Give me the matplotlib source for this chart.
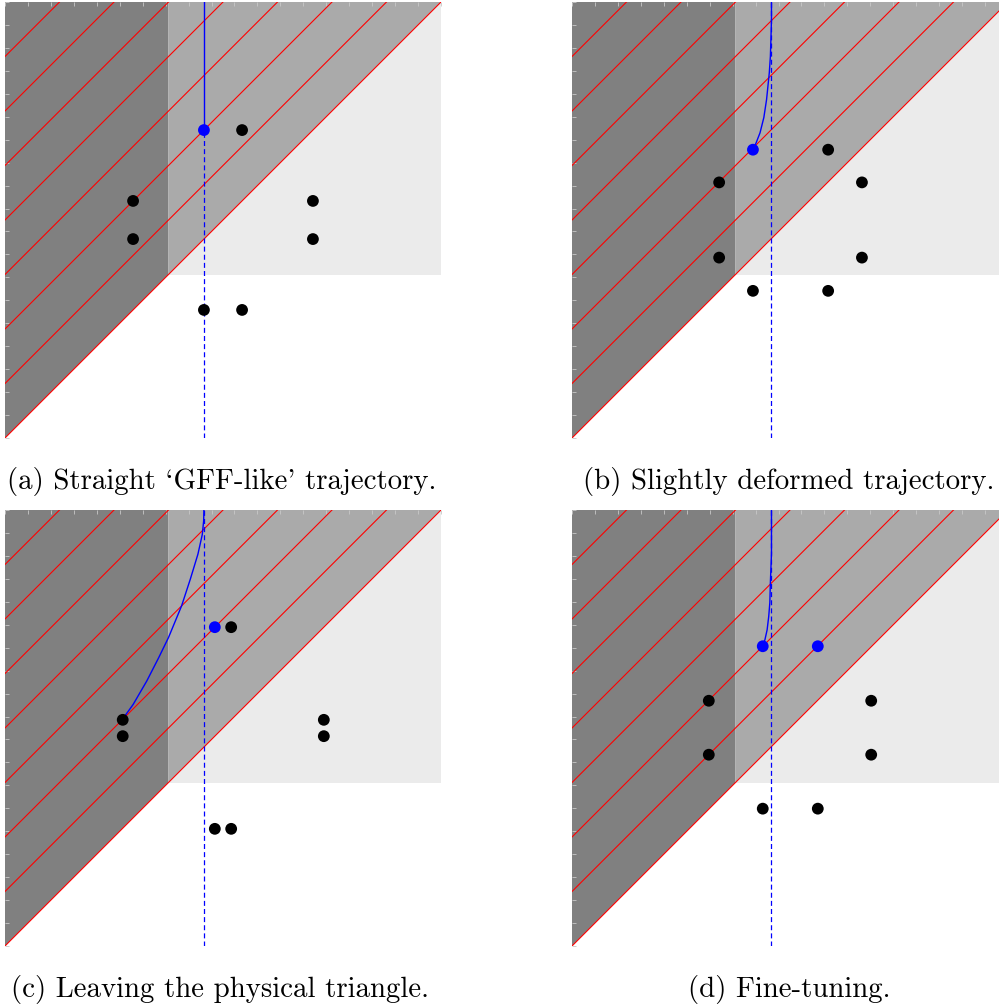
import matplotlib
matplotlib.use('Agg')
import matplotlib.pyplot as plt
import numpy as np

# plane [0, 8] x [0, 8], physical threshold at 3
L = 8.0
THRESHOLD = 3.0
red_offsets = [0, 1, 2, 3, 4, 5, 6, 7]
x_ref = 3.65   # dashed reference trajectory

# operator positions for each configuration
pts_a_x = [3.65, 4.35, 2.35, 5.65, 2.35, 5.65, 3.65, 4.35]
pts_a_y = [5.65, 5.65, 4.35, 4.35, 3.65, 3.65, 2.35, 2.35]
blue_a = [0]

pts_b_x = [3.32, 4.70, 2.70, 5.32, 2.70, 5.32, 3.32, 4.70]
pts_b_y = [5.29, 5.29, 4.69, 4.69, 3.31, 3.31, 2.70, 2.70]
blue_b = [0]

pts_c_x = [3.85, 4.15, 2.16, 5.85, 2.16, 5.85, 3.85, 4.15]
pts_c_y = [5.85, 5.85, 4.15, 4.15, 3.85, 3.85, 2.15, 2.15]
blue_c = [0]

pts_d_x = [3.50, 4.51, 2.51, 5.49, 2.51, 5.49, 3.50, 4.51]
pts_d_y = [5.50, 5.50, 4.50, 4.50, 3.51, 3.51, 2.52, 2.52]
blue_d = [0, 1]

# trajectories
traj_a_x = [3.65, 3.65]
traj_a_y = [5.65, 8.0]

traj_b_x = [3.32, 3.38, 3.45, 3.52, 3.57, 3.62, 3.64, 3.65, 3.66, 3.66]
traj_b_y = [5.29, 5.42, 5.60, 5.88, 6.21, 6.70, 7.00, 7.32, 7.68, 8.0]

traj_c_x = [2.17, 2.35, 2.60, 2.82, 3.00, 3.24, 3.40, 3.54, 3.62, 3.645, 3.65]
traj_c_y = [4.18, 4.43, 4.86, 5.29, 5.66, 6.24, 6.73, 7.19, 7.55, 7.80, 8.0]

traj_d_x = [3.50, 3.54, 3.58, 3.61, 3.63, 3.64, 3.66, 3.66]
traj_d_y = [5.50, 5.62, 5.80, 6.05, 6.30, 6.67, 7.20, 8.0]

captions = ["(a) Straight `GFF-like' trajectory.",
            "(b) Slightly deformed trajectory.",
            "(c) Leaving the physical triangle.",
            "(d) Fine-tuning."]


def draw_background(ax):
    """Vùng nền xám và các đường chéo đỏ"""
    ax.fill([THRESHOLD, L, L, THRESHOLD], [THRESHOLD, THRESHOLD, L, L],
            color='#ebebeb', lw=0, zorder=0)
    ax.fill([0, THRESHOLD, THRESHOLD, 0], [0, THRESHOLD, L, L],
            color='#808080', lw=0, zorder=1)
    ax.fill([THRESHOLD, L, THRESHOLD], [THRESHOLD, L, L],
            color='#aaaaaa', lw=0, zorder=1)
    for c in red_offsets:
        ax.plot([0, L - c], [c, L], color='red', lw=0.8, zorder=2)


def draw_panel(ax, xs, ys, blue_idx, tx, ty, dashed_below=False):
    draw_background(ax)
    if dashed_below:
        ax.plot([x_ref, x_ref], [0, ty[0]], color='blue', lw=0.9,
                ls=(0, (4, 2.5)), zorder=3)
    else:
        ax.plot([x_ref, x_ref], [0, L], color='blue', lw=0.9,
                ls=(0, (4, 2.5)), zorder=3)
    ax.plot(tx, ty, color='blue', lw=1.0, zorder=4)
    cols = ['blue' if i in blue_idx else 'black' for i in range(len(xs))]
    ax.scatter(xs, ys, s=72, c=cols, lw=0, zorder=5)

    ax.set_xlim(0, L)
    ax.set_ylim(0, L)
    for s in ax.spines.values():
        s.set_visible(False)
    ticks = np.linspace(0, L, 20)
    ax.set_xticks(ticks)
    ax.set_yticks(ticks)
    ax.tick_params(top=True, bottom=False, left=True, right=False,
                   labelbottom=False, labelleft=False, direction='in',
                   length=3, width=0.6, color='#c8c8c8')


fig = plt.figure(figsize=(9.99, 10.06), dpi=100)
W, H = 999.0, 1006.0
boxes = [(5, 438), (572, 438), (5, 946), (572, 946)]
data = [(pts_a_x, pts_a_y, blue_a, traj_a_x, traj_a_y, True),
        (pts_b_x, pts_b_y, blue_b, traj_b_x, traj_b_y, False),
        (pts_c_x, pts_c_y, blue_c, traj_c_x, traj_c_y, False),
        (pts_d_x, pts_d_y, blue_d, traj_d_x, traj_d_y, False)]

for (left, bottom), d in zip(boxes, data):
    ax = fig.add_axes([left / W, 1 - bottom / H, 436 / W, 436 / H])
    draw_panel(ax, *d)

cap_pos = [(221.5, 481), (789, 481), (220, 990), (789, 990)]
for (cx, cy), txt in zip(cap_pos, captions):
    fig.text(cx / W, 1 - cy / H, txt, ha='center', va='center',
             family='cmr10', fontsize=20.8)

fig.savefig('out.png', dpi=100)
